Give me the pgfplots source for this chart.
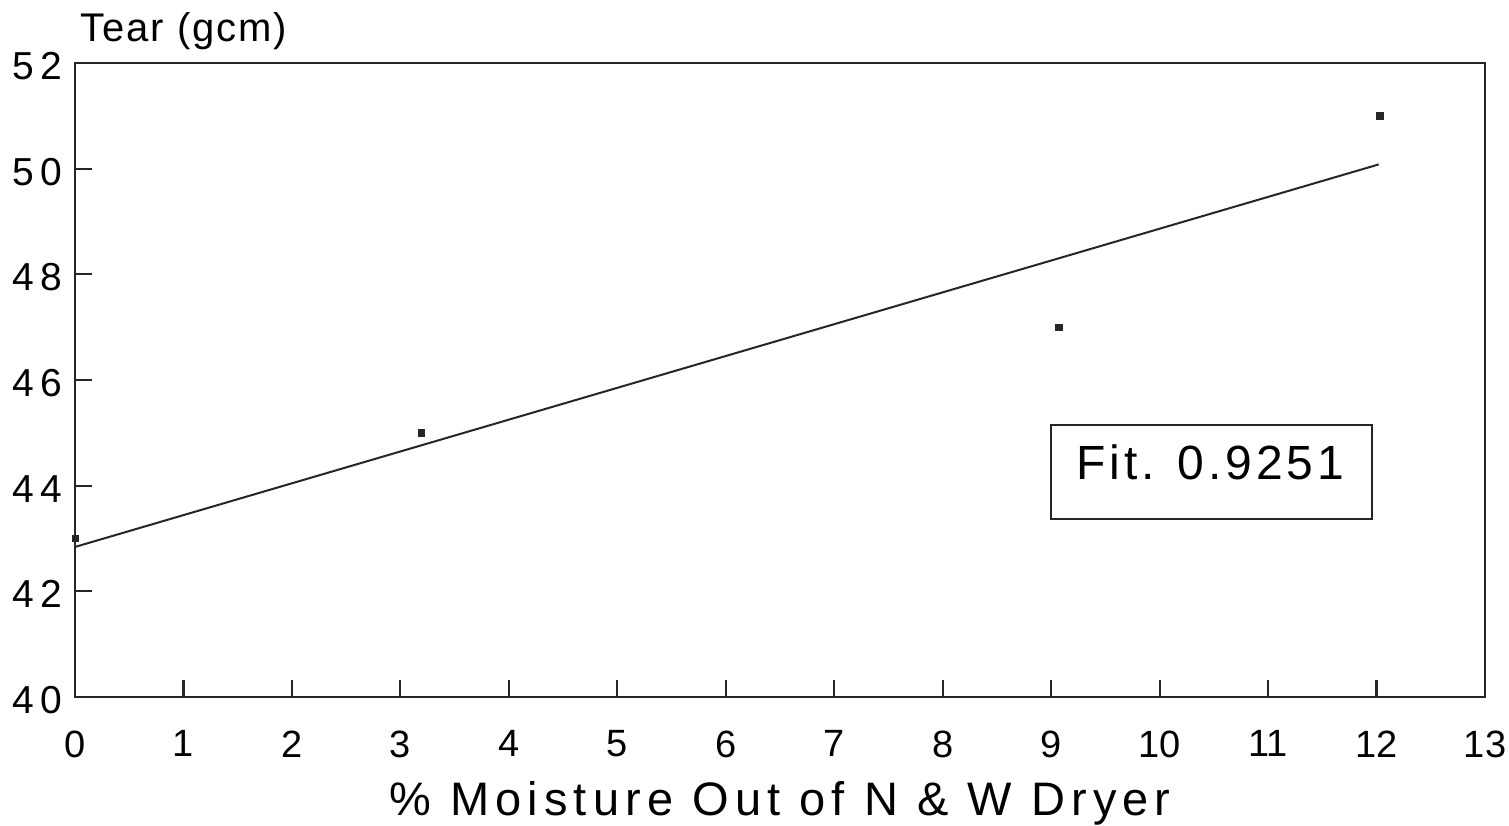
\documentclass[border=0pt]{standalone}
\usepackage{fontspec}
\setmainfont{Liberation Sans}
\newfontfamily\wfont[LetterSpace=8]{Liberation Sans}
\newfontfamily\xfont[LetterSpace=13]{Liberation Sans}
\newfontfamily\yfont[LetterSpace=16]{Liberation Sans}
\newfontfamily\tfont[LetterSpace=5]{Liberation Sans}
\usepackage{pgfplots}
\pgfplotsset{compat=1.18}
\begin{document}
\begin{tikzpicture}
\useasboundingbox (-75pt,-129pt) rectangle (1434pt,697pt);
\begin{axis}[
  at={(0pt,0pt)}, anchor=south west,
  scale only axis, width=1410pt, height=634pt,
  xmin=0, xmax=13, ymin=40, ymax=52,
  clip=false,
  axis line style={line width=2.5pt, black!85},
  xtick={0,...,13}, ytick={40,42,...,52},
  major tick length=0pt,
  tick pos=left, tick align=inside,
  tick style={line width=2.2pt, black!85},
  extra x ticks={1,...,12}, extra x tick labels={},
  extra x tick style={major tick length=17pt},
  extra y ticks={42,44,...,50}, extra y tick labels={},
  extra y tick style={major tick length=17pt},
  /pgf/number format/assume math mode=true,
  xticklabel style={font=\fontsize{38}{44}\selectfont, yshift=-30pt},
  yticklabel style={font=\yfont\fontsize{39}{44}\selectfont, xshift=-9pt, yshift=-3pt},
]
\addplot[line width=2pt, black!85, no marks] coordinates {(0,42.84) (12.02,50.08)};
\addplot[only marks, mark=square*, mark size=3.2pt, black!85] coordinates {(0,43) (3.19,45) (9.07,47) (12.03,51)};
\draw[line width=2pt, black!85] (axis cs:9.0,43.37) rectangle (axis cs:11.96,45.15);
\node[anchor=base west, inner sep=0pt, font=\wfont\fontsize{48}{56}\selectfont] at (axis cs:9.235,44.11) {Fit. 0.9251};
\node[anchor=base west, inner sep=0pt, font=\tfont\fontsize{40}{44}\selectfont] at ([xshift=5pt,yshift=21pt]rel axis cs:0,1) {Tear (gcm)};
\node[anchor=base, inner sep=0pt, font=\xfont\fontsize{47}{52}\selectfont] at ([yshift=-118pt]rel axis cs:0.5,0) {\% Moisture Out of N \& W Dryer};
\end{axis}
\end{tikzpicture}
\end{document}
